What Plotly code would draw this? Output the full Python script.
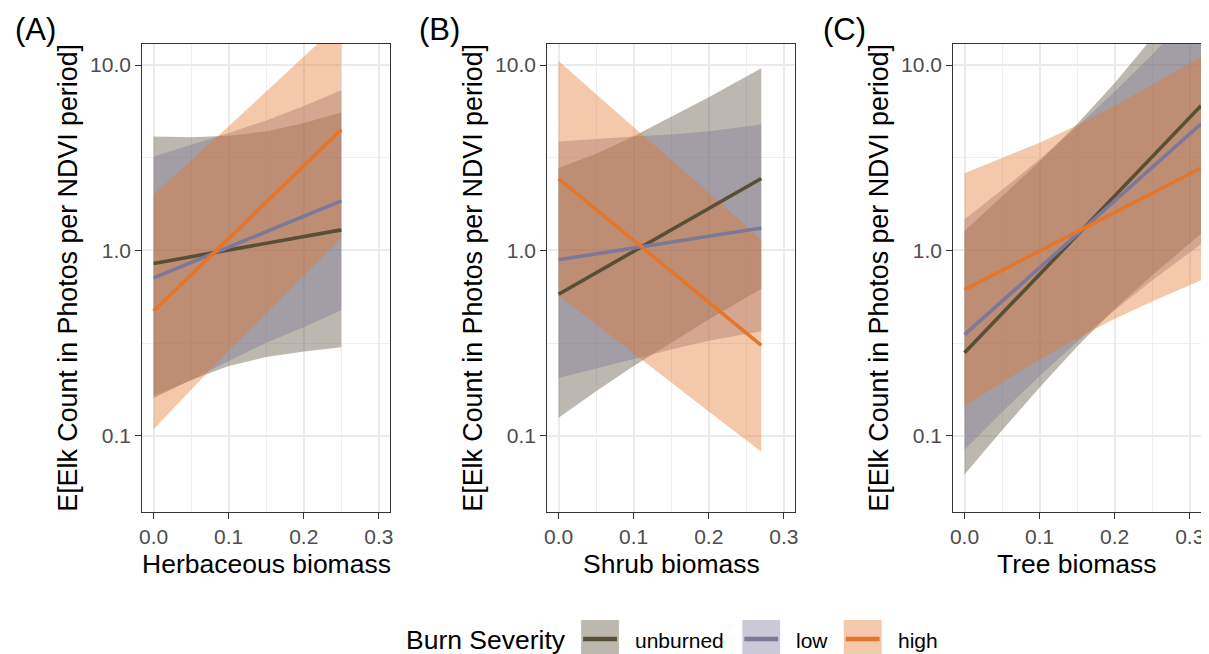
import plotly.graph_objects as go

# ---------------- data ----------------
groups = ["unburned", "low", "high"]

# Panel A: Herbaceous biomass
herb_x = [0.0, 0.05, 0.10, 0.15, 0.20, 0.25]
herb_fit_x = [0.0, 0.25]
herb_unburned_fit = [0.85, 1.29]
herb_low_fit = [0.71, 1.85]
herb_high_fit = [0.47, 4.48]
herb_unburned_upper = [4.12, 4.08, 4.15, 4.38, 4.87, 5.55]
herb_unburned_lower = [0.16, 0.20, 0.238, 0.266, 0.285, 0.30]
herb_low_upper = [3.21, 3.71, 4.30, 5.02, 6.0, 7.3]
herb_low_lower = [0.165, 0.199, 0.253, 0.317, 0.385, 0.475]
herb_high_upper = [2.0, 3.04, 4.67, 7.2, 11.1, 17.1]
herb_high_lower = [0.108, 0.177, 0.288, 0.461, 0.736, 1.17]

# Panel B: Shrub biomass
shrub_x = [0.0, 0.05, 0.10, 0.15, 0.20, 0.27]
shrub_fit_x = [0.0, 0.27]
shrub_unburned_fit = [0.58, 2.44]
shrub_low_fit = [0.89, 1.32]
shrub_high_fit = [2.44, 0.307]
shrub_unburned_upper = [2.78, 3.32, 4.13, 5.26, 6.70, 9.6]
shrub_unburned_lower = [0.125, 0.174, 0.238, 0.317, 0.423, 0.62]
shrub_low_upper = [3.87, 4.0, 4.12, 4.22, 4.39, 4.77]
shrub_low_lower = [0.205, 0.23, 0.259, 0.292, 0.325, 0.366]
shrub_high_upper = [10.5, 6.93, 4.61, 3.08, 2.05, 1.14]
shrub_high_lower = [0.567, 0.40, 0.278, 0.194, 0.135, 0.082]

# Panel C: Tree biomass
tree_x = [0.0, 0.05, 0.10, 0.15, 0.20, 0.25, 0.315]
tree_fit_x = [0.0, 0.315]
tree_unburned_fit = [0.28, 6.03]
tree_low_fit = [0.351, 4.82]
tree_high_fit = [0.614, 2.78]
tree_unburned_upper = [1.27, 1.95, 3.02, 4.81, 8.0, 14.0, 29.5]
tree_unburned_lower = [0.0617, 0.107, 0.182, 0.303, 0.482, 0.733, 1.23]
tree_low_upper = [1.47, 2.12, 3.10, 4.65, 7.2, 11.4, 21.5]
tree_low_lower = [0.084, 0.134, 0.21, 0.321, 0.475, 0.689, 1.08]
tree_high_upper = [2.61, 3.14, 3.81, 4.73, 6.03, 7.83, 11.1]
tree_high_lower = [0.144, 0.194, 0.258, 0.335, 0.427, 0.53, 0.69]

panel_tags = ["(A)", "(B)", "(C)"]
x_titles = ["Herbaceous biomass", "Shrub biomass", "Tree biomass"]
y_title = "E[Elk Count in Photos per NDVI period]"
x_tickvals = [0.0, 0.1, 0.2, 0.3]
x_ticktext = ["0.0", "0.1", "0.2", "0.3"]
y_tickvals = [0.1, 1, 10]
y_ticktext = ["0.1", "1.0", "10.0"]
legend_title = "Burn Severity"

# ---------------- styling ----------------
# The page body has an 8px margin, so the figure is sized/offset to compensate.
OFF = 8
W, H = 1209 - OFF, 654 - OFF
FONT = "Liberation Sans, Arial, Helvetica, sans-serif"
COLORS = {"unburned": "#594E36", "low": "#7D7897", "high": "#E4762B"}
ALPHA = 0.4


def rgba(hx, a):
    hx = hx.lstrip("#")
    r, g, b = int(hx[0:2], 16), int(hx[2:4], 16), int(hx[4:6], 16)
    return f"rgba({r},{g},{b},{a})"


def px(xp):
    return (xp - OFF) / W


def py(yp):
    return 1 - (yp - OFF) / H


panels = [
    dict(x=herb_x, fx=herb_fit_x,
         fit={"unburned": herb_unburned_fit, "low": herb_low_fit, "high": herb_high_fit},
         up={"unburned": herb_unburned_upper, "low": herb_low_upper, "high": herb_high_upper},
         lo={"unburned": herb_unburned_lower, "low": herb_low_lower, "high": herb_high_lower}),
    dict(x=shrub_x, fx=shrub_fit_x,
         fit={"unburned": shrub_unburned_fit, "low": shrub_low_fit, "high": shrub_high_fit},
         up={"unburned": shrub_unburned_upper, "low": shrub_low_upper, "high": shrub_high_upper},
         lo={"unburned": shrub_unburned_lower, "low": shrub_low_lower, "high": shrub_high_lower}),
    dict(x=tree_x, fx=tree_fit_x,
         fit={"unburned": tree_unburned_fit, "low": tree_low_fit, "high": tree_high_fit},
         up={"unburned": tree_unburned_upper, "low": tree_low_upper, "high": tree_high_upper},
         lo={"unburned": tree_unburned_lower, "low": tree_low_lower, "high": tree_high_lower}),
]

# panel geometry in (reference) pixels
plot_left = [140, 547, 955]
plot_width = 249
plot_top, plot_bottom = 44, 512

fig = go.Figure()

for i, p in enumerate(panels):
    xa = "x" if i == 0 else f"x{i+1}"
    ya = "y" if i == 0 else f"y{i+1}"
    for g in groups:
        xs = list(p["x"]) + list(p["x"])[::-1]
        ys = list(p["up"][g]) + list(p["lo"][g])[::-1]
        fig.add_trace(go.Scatter(
            x=xs, y=ys, xaxis=xa, yaxis=ya, mode="lines", fill="toself",
            fillcolor=rgba(COLORS[g], ALPHA), line=dict(width=0),
            hoverinfo="skip", showlegend=False, name=g))
    for g in groups:
        fig.add_trace(go.Scatter(
            x=p["fx"], y=p["fit"][g], xaxis=xa, yaxis=ya, mode="lines",
            line=dict(color=COLORS[g], width=3.6), showlegend=False, name=g))

common_axis = dict(
    showline=True, linecolor="#333333", linewidth=1.3, mirror=True,
    ticks="outside", ticklen=6, tickwidth=1.3, tickcolor="#333333",
    tickfont=dict(size=21, color="#4D4D4D", family=FONT),
    showgrid=True, gridcolor="#EBEBEB", gridwidth=1.6, zeroline=False,
)

layout_axes = {}
for i in range(3):
    sx = "" if i == 0 else str(i + 1)
    layout_axes[f"xaxis{sx}"] = dict(
        common_axis,
        domain=[px(plot_left[i]), min(1.0, px(plot_left[i] + plot_width))],
        anchor=f"y{sx}", range=[-0.015, 0.315],
        tickmode="array", tickvals=x_tickvals, ticktext=x_ticktext,
        minor=dict(tickmode="array", tickvals=[0.05, 0.15, 0.25], showgrid=True,
                   gridcolor="#EFEFEF", gridwidth=0.9, ticks=""),
    )
    layout_axes[f"yaxis{sx}"] = dict(
        common_axis,
        domain=[py(plot_bottom), py(plot_top)],
        anchor=f"x{sx}", type="log", range=[-1.4115, 1.1133],
        tickmode="array", tickvals=y_tickvals, ticktext=y_ticktext,
        minor=dict(tickmode="array", tickvals=[0.0316, 0.316, 3.16], showgrid=True,
                   gridcolor="#EFEFEF", gridwidth=0.9, ticks=""),
    )

annotations = []
tag_x = [33, 439, 846]
ytitle_x = [65, 472, 880]
for i in range(3):
    annotations.append(dict(text=panel_tags[i], x=px(tag_x[i]), y=py(30), xref="paper", yref="paper",
                            xanchor="center", yanchor="middle", showarrow=False,
                            font=dict(size=31, color="black", family=FONT)))
    annotations.append(dict(text=y_title, x=px(ytitle_x[i]), y=py((plot_top + plot_bottom) / 2),
                            xref="paper", yref="paper", textangle=-90,
                            xanchor="center", yanchor="middle", showarrow=False,
                            font=dict(size=26.8, color="black", family=FONT)))
    annotations.append(dict(text=x_titles[i], x=px(plot_left[i] + plot_width / 2), y=py(564),
                            xref="paper", yref="paper", xanchor="center", yanchor="middle",
                            showarrow=False, font=dict(size=26.5, color="black", family=FONT)))

# legend (drawn manually, ggplot style)
shapes = []
annotations.append(dict(text=legend_title, x=px(403), y=py(640), xref="paper", yref="paper",
                        xanchor="left", yanchor="middle", showarrow=False,
                        font=dict(size=26.5, color="black", family=FONT)))
key_left = [581, 743, 845]
label_left = [633, 795, 897]
key_w = 38
for g, kl, ll in zip(groups, key_left, label_left):
    shapes.append(dict(type="rect", xref="paper", yref="paper",
                       x0=px(kl), x1=px(kl + key_w), y0=py(660), y1=py(620),
                       fillcolor=rgba(COLORS[g], ALPHA), line=dict(width=0)))
    shapes.append(dict(type="line", xref="paper", yref="paper",
                       x0=px(kl + 2), x1=px(kl + key_w - 2), y0=py(639), y1=py(639),
                       line=dict(color=COLORS[g], width=4.5)))
    annotations.append(dict(text=g, x=px(ll), y=py(640), xref="paper", yref="paper",
                            xanchor="left", yanchor="middle", showarrow=False,
                            font=dict(size=21, color="black", family=FONT)))

fig.update_layout(
    width=W, height=H, margin=dict(l=0, r=0, t=0, b=0),
    paper_bgcolor="white", plot_bgcolor="white",
    font=dict(family=FONT), showlegend=False,
    annotations=annotations, shapes=shapes, **layout_axes,
)

fig.write_html("out.html")
